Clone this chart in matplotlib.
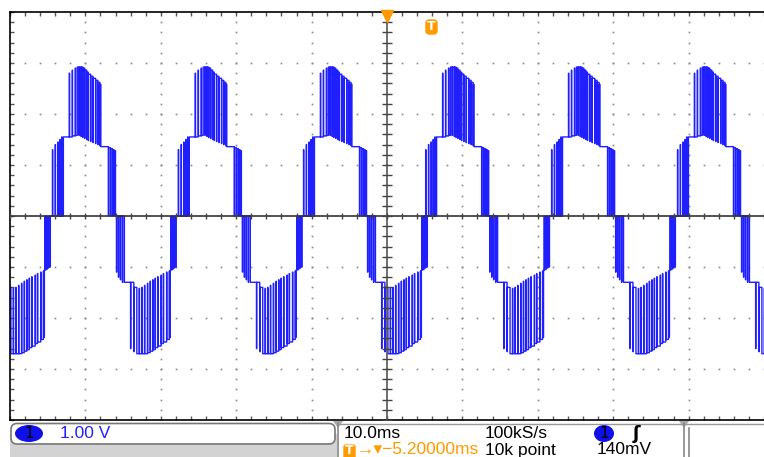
import numpy as np
import matplotlib.pyplot as plt
from matplotlib.patches import FancyBboxPatch, Ellipse, Polygon

# scope settings: 10 ms/div, 1 V/div, screen centre = 0 ms / 0 V
# upward zero crossing of every cycle on screen (ms)
cycle_start = [-61.2, -44.5, -27.8, -11.2, 5.0, 21.7, 38.4]

# ---- positive half cycle (times in ms from the cycle start) ----
# 0 -> L1 pwm (narrow spikes)
up1_t = [0.13, 0.50, 0.85, 1.12, 1.36]
up1_w = [0.03, 0.03, 0.03, 0.03, 0.03]
up1_v = [1.30, 1.40, 1.45, 1.50, 1.55]
l1_on = 1.58
# L1 -> L2 pulses (time spent at the top)
up2_t = [2.37, 2.76, 3.16, 3.42, 3.68, 3.95, 4.17, 4.43, 4.70, 4.91, 5.22, 5.53, 5.88, 6.18, 6.45]
up2_w = [0.03, 0.03, 0.03, 0.23, 0.24, 0.19, 0.23, 0.24, 0.18, 0.28, 0.28, 0.32, 0.27, 0.24, 0.10]
up2_top = [2.80, 2.86, 2.90, 2.92, 2.92, 2.92, 2.90, 2.86, 2.82, 2.78, 2.74, 2.70, 2.66, 2.62, 2.58]
up2_base = [1.55, 1.57, 1.58, 1.58, 1.56, 1.54, 1.52, 1.50, 1.48, 1.46, 1.44, 1.42, 1.40, 1.38, 1.36]
# L1 -> 0 pwm (narrow dips)
dn1_t = [7.55, 7.82, 8.08, 8.30]
dn1_w = [0.03, 0.03, 0.03, 0.03]
dn1_v = [1.34, 1.32, 1.30, 1.28]
zero_mid = 8.49

# ---- negative half cycle ----
# 0 -> -L1 pwm
neg1_t = [8.62, 8.88, 9.14, 9.41]
neg1_w = [0.03, 0.03, 0.03, 0.03]
neg1_v = [-1.10, -1.20, -1.25, -1.30]
nl1_on = 9.67
# -L1 -> -L2 pulses (time spent at the bottom)
neg2_t = [10.49, 10.92, 11.32, 11.67, 12.01, 12.37, 12.76, 13.12, 13.46, 13.78, 14.12, 14.57, 14.87, 15.30, 15.66]
neg2_w = [0.03, 0.03, 0.32, 0.31, 0.33, 0.36, 0.33, 0.31, 0.29, 0.31, 0.42, 0.27, 0.40, 0.33, 0.10]
neg2_bot = [-2.60, -2.66, -2.70, -2.70, -2.70, -2.70, -2.68, -2.65, -2.62, -2.58, -2.55, -2.50, -2.47, -2.42, -2.38]
neg2_base = [-1.30, -1.40, -1.42, -1.40, -1.36, -1.32, -1.28, -1.25, -1.22, -1.19, -1.16, -1.13, -1.10, -1.08, -1.06]
# -L1 -> 0 pwm
neg3_t = [15.85, 16.10, 16.32]
neg3_w = [0.03, 0.03, 0.03]
neg3_v = [-1.05, -1.02, -1.00]
zero_end = 16.55


def one_cycle(t0):
    t, v = [t0], [0.0]
    for a, w, h in zip(up1_t, up1_w, up1_v):
        t += [t0 + a, t0 + a + w]
        v += [h, 0.0]
    t.append(t0 + l1_on); v.append(up2_base[0])
    for a, w, top, base in zip(up2_t, up2_w, up2_top, up2_base):
        t += [t0 + a, t0 + a + w]
        v += [top, base]
    for a, w, h in zip(dn1_t, dn1_w, dn1_v):
        t += [t0 + a, t0 + a + w]
        v += [0.0, h]
    t.append(t0 + zero_mid); v.append(0.0)
    for a, w, h in zip(neg1_t, neg1_w, neg1_v):
        t += [t0 + a, t0 + a + w]
        v += [h, 0.0]
    t.append(t0 + nl1_on); v.append(neg2_base[0])
    for a, w, bot, base in zip(neg2_t, neg2_w, neg2_bot, neg2_base):
        t += [t0 + a, t0 + a + w]
        v += [bot, base]
    for a, w, h in zip(neg3_t, neg3_w, neg3_v):
        t += [t0 + a, t0 + a + w]
        v += [0.0, h]
    t.append(t0 + zero_end); v.append(0.0)
    return t, v


tt, vv = [], []
for c in cycle_start:
    a, b = one_cycle(c)
    tt += a
    vv += b
tt = np.array(tt)
vv = np.array(vv)

W, H = 764, 457
fig = plt.figure(figsize=(W / 100, H / 100), dpi=100)
fig.patch.set_facecolor('white')

# plot area: x 10..764 px, y 12..420 px
x0, x1, y0, y1 = 10, 764, 12, 420
ax = fig.add_axes([x0 / W, 1 - y1 / H, (x1 - x0) / W, (y1 - y0) / H])
ax.set_xlim(-50, -50 + (x1 - x0) / 7.6)
ax.set_ylim(-4, 4)
ax.spines['right'].set_visible(False)
for s in ['left', 'top', 'bottom']:
    ax.spines[s].set_color('black')
    ax.spines[s].set_linewidth(1.2)

# border ticks
ax.set_xticks(np.arange(-50, 50.1, 2))
ax.set_yticks(np.arange(-4, 4.01, 0.2))
ax.tick_params(direction='in', length=3, width=1, color='#555555',
               top=True, bottom=True, left=True, right=False,
               labelbottom=False, labelleft=False)

# dotted graticule
mx = np.arange(-50, 50.1, 2)
my = np.arange(-4, 4.01, 0.2)
for gx in range(-40, 50, 10):
    if gx == 0:
        continue
    ax.plot(np.full_like(my, gx), my, 's', ms=1.2, color='#888888', mew=0, zorder=1)
for gy in range(-3, 4):
    if gy == 0:
        continue
    ax.plot(mx, np.full_like(mx, gy), 's', ms=1.2, color='#888888', mew=0, zorder=1)

# trace
ax.plot(tt, vv, drawstyle='steps-post', color='#1f1fff', lw=1.0, zorder=2)

# centre cross with ticks
ax.axhline(0, color='#333333', lw=1.2, zorder=3)
ax.axvline(0, color='#555555', lw=1.2, zorder=3)
ax.plot(mx, np.zeros_like(mx), '|', ms=5, mew=1, color='#444444', zorder=3)
ax.plot(np.zeros_like(my), my, '_', ms=7, mew=1, color='#444444', zorder=3)

# trigger position marker
ax.plot(0, 3.93, 'v', ms=9, color='#ff9900', mec='#ff9900', clip_on=False, zorder=5)

# overlay in pixel coordinates for the status bar
ov = fig.add_axes([0, 0, 1, 1], facecolor='none')
ov.set_xlim(0, W)
ov.set_ylim(H, 0)
ov.axis('off')

orange = '#ff9a00'
blue = '#2222ff'

# trigger level badge "T"
ov.add_patch(FancyBboxPatch((426, 20), 11, 14, boxstyle='round,pad=0,rounding_size=3',
                            fc=orange, ec=orange))
ov.text(431.5, 27, 'T', color='white', fontsize=9, fontweight='bold',
        ha='center', va='center')

# left panel
ov.add_patch(plt.Rectangle((10, 434), 327, 30, fc='#d3d3d3', ec='none'))
ov.add_patch(FancyBboxPatch((11, 423.5), 324, 20.5, boxstyle='round,pad=0,rounding_size=6',
                            fc='white', ec='#777777', lw=1.2))
ov.add_patch(Ellipse((29, 433.5), 28, 17, fc='#1010e8', ec='none'))
ov.text(29, 434, '1', color='black', fontsize=11, ha='center', va='center')
ov.text(60, 434, '1.00 V', color=blue, fontsize=12.5, ha='left', va='center',
        family='Liberation Sans')

# middle panel
ov.plot([338, 764], [423.5, 423.5], color='#999999', lw=1)
for sx in [338, 684]:
    ov.plot([sx, sx], [423, 457], color='#888888', lw=1.2)
    ov.add_patch(Polygon([[sx - 5, 421], [sx + 5, 421], [sx, 428]], closed=True,
                         fc='#aaaaaa', ec='none'))
ov.plot([689, 689], [428, 457], color='#888888', lw=1.2)

ov.text(344, 433, '10.0ms', color='black', fontsize=12.5, ha='left', va='center',
        family='Liberation Sans')
ov.text(485, 433, '100kS/s', color='black', fontsize=12.5, ha='left', va='center',
        family='Liberation Sans')
ov.add_patch(Ellipse((604, 433.5), 20, 17, fc='#1010e8', ec='none'))
ov.text(604, 434, '1', color='black', fontsize=11, ha='center', va='center')
ov.text(636, 434, 'ʃ', color='black', fontsize=13, ha='center', va='center',
        fontweight='bold', family='DejaVu Sans')

ov.add_patch(FancyBboxPatch((344, 445), 11, 14, boxstyle='round,pad=0,rounding_size=2',
                            fc=orange, ec=orange))
ov.text(349.5, 451, 'T', color='white', fontsize=9, fontweight='bold', ha='center', va='center')
ov.text(356, 450, '→▾−5.20000ms', color=orange, fontsize=12.5, ha='left', va='center',
        family=['Liberation Sans', 'DejaVu Sans'])
ov.text(485, 450, '10k point', color='black', fontsize=12.5, ha='left', va='center',
        family='Liberation Sans')
ov.text(597, 450, '140mV', color='black', fontsize=12.5, ha='left', va='center',
        family='Liberation Sans')

fig.savefig('out.png', dpi=100)
